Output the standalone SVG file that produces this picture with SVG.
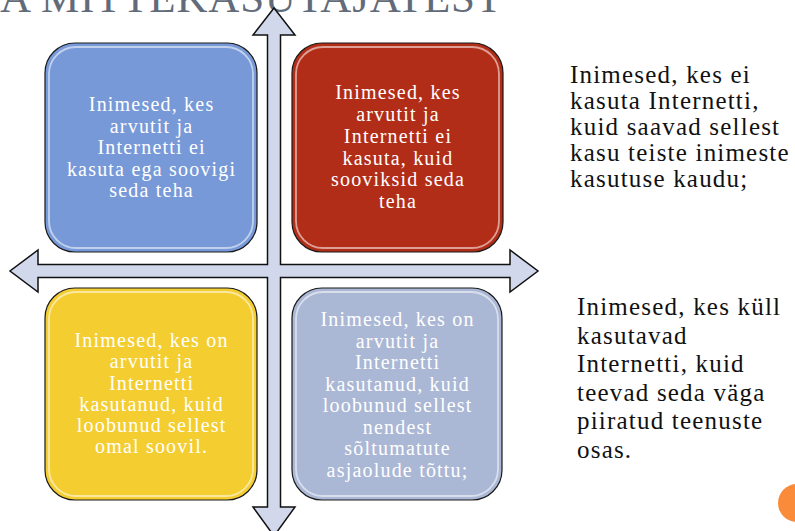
<svg xmlns="http://www.w3.org/2000/svg" width="795" height="531" viewBox="0 0 795 531">
<style>
.title{font-family:"Liberation Serif","Times New Roman",serif;font-size:43px;fill:#626b79}
.box{stroke:#1a1a1a;stroke-width:1.2}
.gloss{fill:none;stroke:#ffffff;stroke-opacity:0.55;stroke-width:1.8}
.bt{font-family:"Liberation Serif","Times New Roman",serif;font-size:20px;letter-spacing:1.2px;fill:#ffffff;text-anchor:middle}
.side{font-family:"Liberation Serif","Times New Roman",serif;font-size:25px;letter-spacing:1.2px;fill:#111111}
.arrow{fill:#d1d8eb;stroke:#111111;stroke-width:1.5;stroke-linejoin:miter}
</style>
<rect width="795" height="531" fill="#ffffff"/>
<text class="title" x="0" y="12" textLength="502" lengthAdjust="spacing">A MITTEKASUTAJATEST</text>

<g id="connectors">
<polygon class="arrow" points="274,8 295,35 280.5,35 280.5,264.5 510,264.5 510,250 538,271 510,292 510,277.5 280.5,277.5 280.5,507 295,507 274,536 253,507 267.5,507 267.5,277.5 38,277.5 38,292 10,271 38,250 38,264.5 267.5,264.5 267.5,35 253,35"/>
</g>

<g id="box-blue">
<rect class="box" x="45" y="43" width="212" height="209" rx="30" fill="#7799d8"/>
<rect class="gloss" x="49" y="47" width="204" height="201" rx="27"/>
<text class="bt" x="151.6" y="111">Inimesed, kes</text>
<text class="bt" x="151.6" y="132.5">arvutit ja</text>
<text class="bt" x="151.6" y="154">Internetti ei</text>
<text class="bt" x="151.6" y="175.5">kasuta ega soovigi</text>
<text class="bt" x="151.6" y="197">seda teha</text>
</g>

<g id="box-red">
<rect class="box" x="292" y="43" width="211" height="209" rx="30" fill="#b22d18"/>
<rect class="gloss" x="296" y="47" width="203" height="201" rx="27"/>
<text class="bt" x="398" y="99">Inimesed, kes</text>
<text class="bt" x="398" y="121">arvutit ja</text>
<text class="bt" x="398" y="143">Internetti ei</text>
<text class="bt" x="398" y="164.5">kasuta, kuid</text>
<text class="bt" x="398" y="186">sooviksid seda</text>
<text class="bt" x="398" y="208">teha</text>
</g>

<g id="box-yellow">
<rect class="box" x="45" y="288" width="212" height="212" rx="30" fill="#f4cd30"/>
<rect class="gloss" x="49" y="292" width="204" height="204" rx="27"/>
<text class="bt" x="151.6" y="347">Inimesed, kes on</text>
<text class="bt" x="151.6" y="368">arvutit ja</text>
<text class="bt" x="151.6" y="389.5">Internetti</text>
<text class="bt" x="151.6" y="411">kasutanud, kuid</text>
<text class="bt" x="151.6" y="432">loobunud sellest</text>
<text class="bt" x="151.6" y="453">omal soovil.</text>
</g>

<g id="box-grey">
<rect class="box" x="292" y="288" width="210" height="212" rx="30" fill="#aab7d5"/>
<rect class="gloss" x="296" y="292" width="202" height="204" rx="27"/>
<text class="bt" x="397.6" y="326">Inimesed, kes on</text>
<text class="bt" x="397.6" y="347.5">arvutit ja</text>
<text class="bt" x="397.6" y="369">Internetti</text>
<text class="bt" x="397.6" y="390.5">kasutanud, kuid</text>
<text class="bt" x="397.6" y="412">loobunud sellest</text>
<text class="bt" x="397.6" y="433.5">nendest</text>
<text class="bt" x="397.6" y="455">sõltumatute</text>
<text class="bt" x="397.6" y="476.5">asjaolude tõttu;</text>
</g>

<g id="note-1">
<text class="side" x="570" y="83">Inimesed, kes ei</text>
<text class="side" x="570" y="109">kasuta Internetti,</text>
<text class="side" x="570" y="135">kuid saavad sellest</text>
<text class="side" x="570" y="161">kasu teiste inimeste</text>
<text class="side" x="570" y="187">kasutuse kaudu;</text>
</g>

<g id="note-2">
<text class="side" x="577" y="315">Inimesed, kes küll</text>
<text class="side" x="577" y="343.5">kasutavad</text>
<text class="side" x="577" y="372">Internetti, kuid</text>
<text class="side" x="577" y="400.5">teevad seda väga</text>
<text class="side" x="577" y="429">piiratud teenuste</text>
<text class="side" x="577" y="457.5">osas.</text>
</g>

<circle cx="797" cy="503" r="19" fill="#f98b3b"/>
</svg>
